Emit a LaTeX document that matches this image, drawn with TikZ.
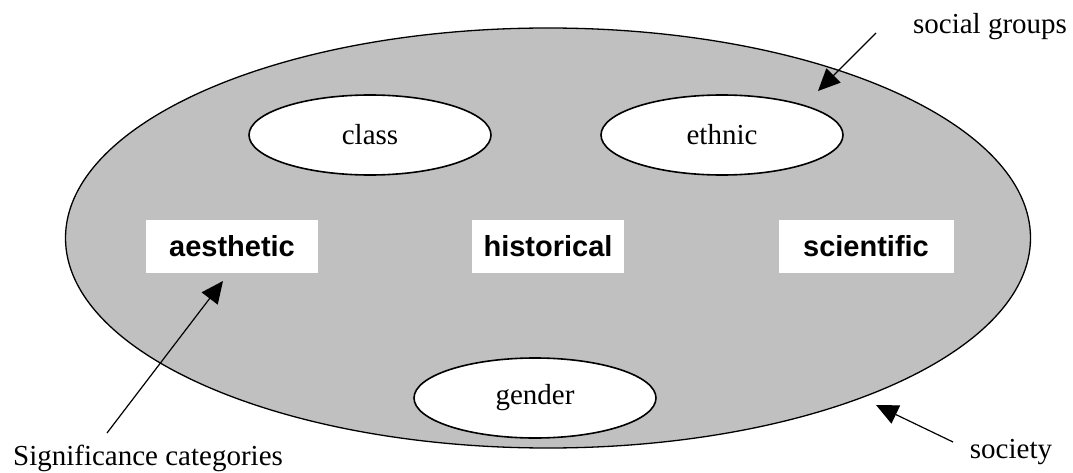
\documentclass[tikz,border=0pt]{standalone}
\usepackage{fontspec}
\setmainfont{Liberation Serif}
\newfontfamily\catfont{Liberation Sans}
\usetikzlibrary{arrows.meta,shapes.geometric}
\definecolor{societygray}{HTML}{C0C0C0}
\begin{document}
\begin{tikzpicture}[x=1pt,y=-1pt,
  every node/.style={inner sep=0pt, outer sep=0pt},
  lbl/.style={font=\fontsize{29}{31}\selectfont},
  group/.style={ellipse, draw=black, line width=1.6pt, fill=white,
    minimum width=242pt, minimum height=80pt, font=\fontsize{29}{31}\selectfont},
  category/.style={fill=white, minimum height=53pt,
    font=\catfont\bfseries\fontsize{29}{31}\selectfont},
  pointer/.style={line width=1.2pt, -{Triangle[length=22pt,width=20pt]}}]
\useasboundingbox (0,0) rectangle (1073,473);
% society
\node (society) [ellipse, draw=black, line width=1.3pt, fill=societygray,
  minimum width=965pt, minimum height=420pt] at (548,238) {};
% social groups
\node (class)  [group] at (370,135) {class};
\node (ethnic) [group] at (722,135) {ethnic};
\node (gender) [group] at (535,398) {gender};
% significance categories
\node (aesthetic)  [category, minimum width=172pt] at (232,246) {aesthetic};
\node (historical) [category, minimum width=152pt] at (548,246) {historical};
\node (scientific) [category, minimum width=175pt] at (866,246) {scientific};
% outer labels
\node (lgroups)  [lbl] at (990,27)  {social groups};
\node (lcats)    [lbl] at (148,458) {Significance categories};
\node (lsociety) [lbl] at (1011,452) {society};
% pointers
\coordinate (gstart) at (876,33);
\coordinate (gtip)   at (818,91);
\coordinate (cstart) at (107,433);
\coordinate (ctip)   at (223,281);
\coordinate (sstart) at (953,442);
\coordinate (stip)   at (876,405);
\draw[pointer] (gstart) -- (gtip);
\draw[pointer] (cstart) -- (ctip);
\draw[pointer] (sstart) -- (stip);
\end{tikzpicture}
\end{document}
